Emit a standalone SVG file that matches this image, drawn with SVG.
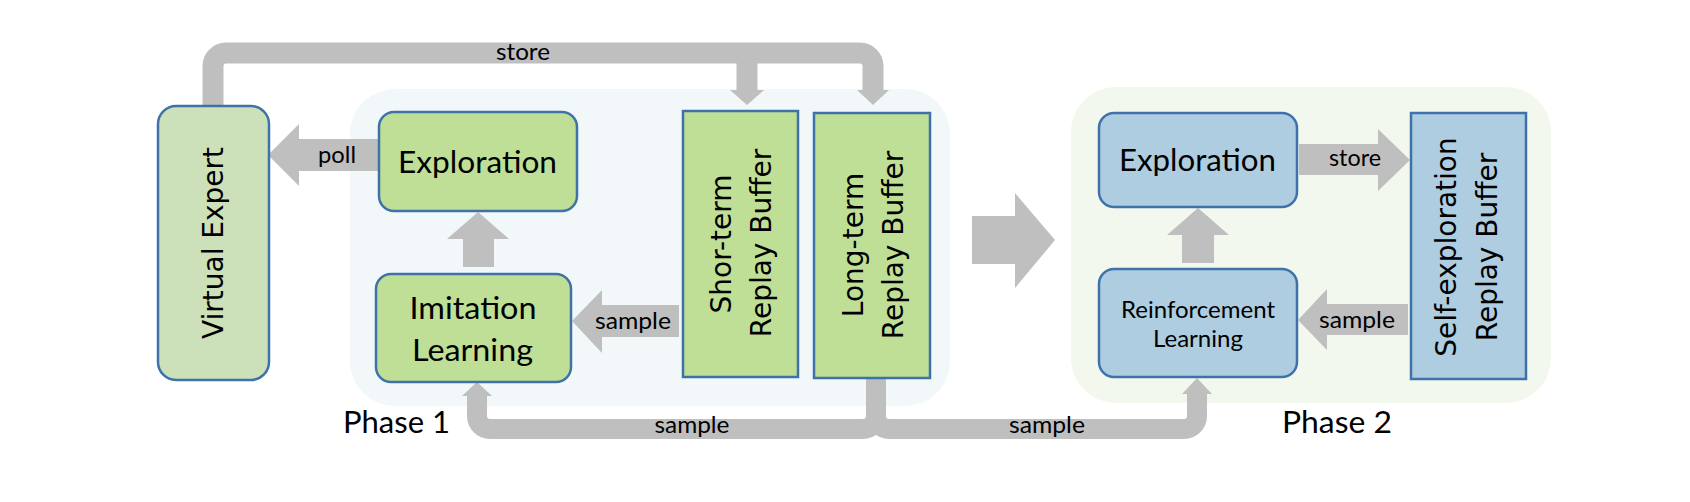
<svg xmlns="http://www.w3.org/2000/svg" width="1690" height="502" viewBox="0 0 1690 502">
<defs>
<style>
.bg1{fill:#f2f7fa;}
.bg2{fill:#f3f8ee;}
.ng{fill:#bfdf97;stroke:#3f72a9;stroke-width:2.5;}
.nv{fill:#cce0ba;stroke:#3f72a9;stroke-width:2.5;}
.nb{fill:#aecde1;stroke:#3f72a9;stroke-width:2.5;}
.arr{fill:#bfbfbf;}
.band{fill:none;stroke:#bfbfbf;}
.lbl{font-family:Lato,"Open Sans",sans-serif;fill:#000;text-anchor:middle;}
.rot{font-family:"DejaVu Sans",Verdana,sans-serif;font-size:28px;fill:#000;text-anchor:middle;}
</style>
</defs>
<rect width="1690" height="502" fill="#ffffff"/>
<g id="phase1">
<rect class="bg1" x="350" y="89" width="600" height="317" rx="45"/>
<text class="lbl" x="396.5" y="433" font-size="30" textLength="107" lengthAdjust="spacingAndGlyphs">Phase 1</text>
</g>
<g id="phase2">
<rect class="bg2" x="1071" y="87" width="480" height="316" rx="45"/>
<text class="lbl" x="1337" y="433" font-size="30" textLength="110" lengthAdjust="spacingAndGlyphs">Phase 2</text>
</g>
<g id="connectors">
<path class="band" stroke-width="21" d="M213,106 V66 A13,13 0 0 1 226,53 H860 A13,13 0 0 1 873,66 V91"/>
<path class="band" stroke-width="21" d="M747,53 V91"/>
<polygon class="arr" points="730,90 764,90 747,105"/>
<polygon class="arr" points="857,90 889,90 873,105"/>
<text class="lbl" x="523" y="60" font-size="23" textLength="54" lengthAdjust="spacingAndGlyphs">store</text>
<polygon class="arr" points="380,139 299,139 299,124 268,155 299,186 299,171 380,171"/>
<text class="lbl" x="337" y="163" font-size="23" textLength="38" lengthAdjust="spacingAndGlyphs">poll</text>
<polygon class="arr" points="463,267 463,239 447,239 478,212 509,239 494,239 494,267"/>
<polygon class="arr" points="679,305 602,305 602,290 572,321 602,353 602,337 679,337"/>
<text class="lbl" x="633" y="329" font-size="23" textLength="76" lengthAdjust="spacingAndGlyphs">sample</text>
<path class="band" stroke-width="20" d="M876,377 V416 A13,13 0 0 1 863,429 H490 A13,13 0 0 1 477,416 V396"/>
<polygon class="arr" points="462,396 492,396 477,382"/>
<path class="band" stroke-width="20" d="M876,377 V416 A13,13 0 0 0 889,429 H1184 A13,13 0 0 0 1197,416 V394"/>
<polygon class="arr" points="1182,394 1212,394 1197,378"/>
<text class="lbl" x="692" y="433" font-size="23" textLength="75" lengthAdjust="spacingAndGlyphs">sample</text>
<text class="lbl" x="1047" y="433" font-size="23" textLength="76" lengthAdjust="spacingAndGlyphs">sample</text>
<polygon class="arr" points="972,216 1015,216 1015,193 1055,240 1015,288 1015,264 972,264"/>
<polygon class="arr" points="1182,263 1182,235 1167,235 1198,208 1229,235 1214,235 1214,263"/>
<polygon class="arr" points="1299,144 1378,144 1378,129 1410,160 1378,191 1378,175 1299,175"/>
<text class="lbl" x="1355" y="166" font-size="23" textLength="52" lengthAdjust="spacingAndGlyphs">store</text>
<polygon class="arr" points="1408,304 1327,304 1327,289 1298,320 1327,350 1327,335 1408,335"/>
<text class="lbl" x="1357" y="328" font-size="23" textLength="76" lengthAdjust="spacingAndGlyphs">sample</text>
</g>
<g id="virtual-expert">
<rect class="nv" x="158" y="106" width="111" height="274" rx="18"/>
<text class="rot" transform="translate(223,243) rotate(-90)">Virtual Expert</text>
</g>
<g id="exploration1">
<rect class="ng" x="379" y="112" width="198" height="99" rx="15"/>
<text class="lbl" x="477.5" y="173" font-size="31" textLength="159" lengthAdjust="spacingAndGlyphs">Exploration</text>
</g>
<g id="imitation-learning">
<rect class="ng" x="376" y="274" width="195" height="108" rx="15"/>
<text class="lbl" x="473" y="319" font-size="31" textLength="127" lengthAdjust="spacingAndGlyphs">Imitation</text>
<text class="lbl" x="472.5" y="361" font-size="31" textLength="121" lengthAdjust="spacingAndGlyphs">Learning</text>
</g>
<g id="short-term-buffer">
<rect class="ng" x="683" y="111" width="115" height="266"/>
<text class="rot" transform="translate(731,244) rotate(-90)">Shor-term</text>
<text class="rot" transform="translate(771,243) rotate(-90)">Replay Buffer</text>
</g>
<g id="long-term-buffer">
<rect class="ng" x="814" y="113" width="116" height="265"/>
<text class="rot" transform="translate(863,245) rotate(-90)">Long-term</text>
<text class="rot" transform="translate(903,245) rotate(-90)">Replay Buffer</text>
</g>
<g id="exploration2">
<rect class="nb" x="1099" y="113" width="198" height="94" rx="15"/>
<text class="lbl" x="1197.5" y="171" font-size="31" textLength="157" lengthAdjust="spacingAndGlyphs">Exploration</text>
</g>
<g id="reinforcement-learning">
<rect class="nb" x="1099" y="269" width="198" height="108" rx="15"/>
<text class="lbl" x="1198" y="318" font-size="23" textLength="154" lengthAdjust="spacingAndGlyphs">Reinforcement</text>
<text class="lbl" x="1198" y="347" font-size="23" textLength="90" lengthAdjust="spacingAndGlyphs">Learning</text>
</g>
<g id="self-exploration-buffer">
<rect class="nb" x="1411" y="113" width="115" height="266"/>
<text class="rot" transform="translate(1456,247) rotate(-90)">Self-exploration</text>
<text class="rot" transform="translate(1497,247) rotate(-90)">Replay Buffer</text>
</g>
</svg>
